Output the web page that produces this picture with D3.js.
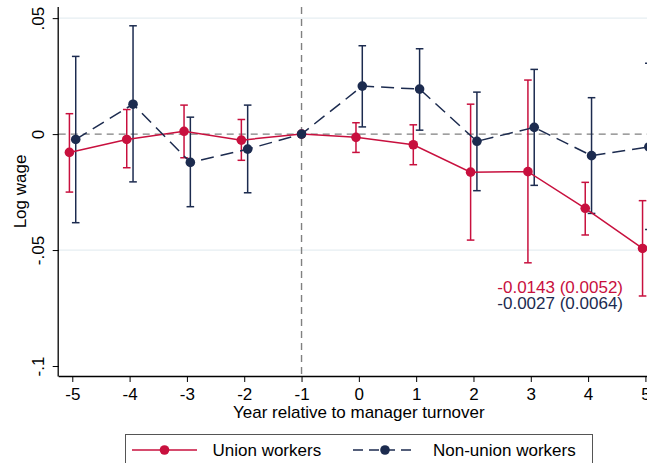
<!DOCTYPE html>
<html>
<head>
<meta charset="utf-8">
<script src="https://cdn.jsdelivr.net/npm/d3@7"></script>
<style>
  html, body { margin: 0; padding: 0; background: #ffffff; }
  svg { display: block; font-family: "Liberation Sans", Arial, Helvetica, sans-serif; }
</style>
</head>
<body>
<div id="chart"></div>
<script>
// ---- Data ----
const years = [-5, -4, -3, -2, -1, 0, 1, 2, 3, 4, 5];

const unionEst = [-0.0079, -0.0023, 0.0012, -0.0026, 0, -0.0014, -0.0046, -0.0164, -0.0162, -0.0320, -0.0493];
const unionLo  = [-0.0250, -0.0145, -0.0102, -0.0113, null, -0.0079, -0.0132, -0.0457, -0.0555, -0.0435, -0.0698];
const unionHi  = [ 0.0088,  0.0106,  0.0125,  0.0063, null,  0.0049,  0.0040,  0.0129,  0.0233, -0.0208, -0.0287];

const nonUnionEst = [-0.0023, 0.0129, -0.0122, -0.0065, 0, 0.0207, 0.0194, -0.0031, 0.0029, -0.0093, -0.0055];
const nonUnionLo  = [-0.0382, -0.0206, -0.0313, -0.0253, null, 0.0031, 0.0017, -0.0244, -0.0221, -0.0342, -0.0411];
const nonUnionHi  = [ 0.0335,  0.0467,  0.0073,  0.0125, null, 0.0381, 0.0368,  0.0181,  0.0279,  0.0157,  0.0305];

const xTickValues = [-5, -4, -3, -2, -1, 0, 1, 2, 3, 4, 5];
const yTickValues = [-0.1, -0.05, 0, 0.05];
const yTickLabels = ["-.1", "-.05", "0", ".05"];
const gridValues = [-0.05, 0.05];

const seriesNames = ["Union workers", "Non-union workers"];
const annotations = ["-0.0143 (0.0052)", "-0.0027 (0.0064)"];

const xTitle = "Year relative to manager turnover";
const yTitle = "Log wage";

// ---- Layout ----
const W = 647, H = 463;
const plotLeft = 58.7, plotTop = 7, plotRight = 659, plotBottom = 376;
const redC = "#c8103e", blueC = "#1c2b4f";
const fontSize = 17;

const svg = d3.select("#chart").append("svg")
  .attr("width", W).attr("height", H)
  .attr("viewBox", `0 0 ${W} ${H}`);

const x = d3.scaleLinear().domain([-5.237, 5.237]).range([plotLeft, plotRight]);
const y = d3.scaleLinear().domain([-0.1043, 0.0548]).range([plotBottom, plotTop]);

// grid lines
svg.append("g").selectAll("line").data(gridValues).join("line")
  .attr("x1", plotLeft).attr("x2", plotRight)
  .attr("y1", d => y(d)).attr("y2", d => y(d))
  .attr("stroke", "#e6eef2").attr("stroke-width", 1.2);

// reference lines
svg.append("line")
  .attr("x1", plotLeft).attr("x2", plotRight)
  .attr("y1", y(0)).attr("y2", y(0))
  .attr("stroke", "#808080").attr("stroke-width", 1.4)
  .attr("stroke-dasharray", "7,5");
svg.append("line")
  .attr("x1", x(-1)).attr("x2", x(-1))
  .attr("y1", plotTop).attr("y2", plotBottom)
  .attr("stroke", "#808080").attr("stroke-width", 1.4)
  .attr("stroke-dasharray", "7,5");

// series
function makeSeries(est, lo, hi, offset) {
  return years.map((yr, i) => ({ xv: yr + offset, est: est[i], lo: lo[i], hi: hi[i] }));
}
const series = [
  { name: seriesNames[0], color: redC, dash: null, data: makeSeries(unionEst, unionLo, unionHi, -0.05) },
  { name: seriesNames[1], color: blueC, dash: "13,7", data: makeSeries(nonUnionEst, nonUnionLo, nonUnionHi, 0.06) }
];
// zero point at -1 shared
series.forEach(s => { s.data[4].xv = -1; });

const capW = 3.8;
series.forEach(s => {
  const g = svg.append("g");
  const ci = s.data.filter(d => d.lo !== null);
  g.selectAll("line.v").data(ci).join("line").attr("class", "v")
    .attr("x1", d => x(d.xv)).attr("x2", d => x(d.xv))
    .attr("y1", d => y(d.lo)).attr("y2", d => y(d.hi))
    .attr("stroke", s.color).attr("stroke-width", 1.5);
  g.selectAll("line.ct").data(ci).join("line").attr("class", "ct")
    .attr("x1", d => x(d.xv) - capW).attr("x2", d => x(d.xv) + capW)
    .attr("y1", d => y(d.hi)).attr("y2", d => y(d.hi))
    .attr("stroke", s.color).attr("stroke-width", 1.5);
  g.selectAll("line.cb").data(ci).join("line").attr("class", "cb")
    .attr("x1", d => x(d.xv) - capW).attr("x2", d => x(d.xv) + capW)
    .attr("y1", d => y(d.lo)).attr("y2", d => y(d.lo))
    .attr("stroke", s.color).attr("stroke-width", 1.5);
});
series.forEach(s => {
  const g = svg.append("g");
  const line = d3.line().x(d => x(d.xv)).y(d => y(d.est));
  g.append("path").datum(s.data)
    .attr("d", line).attr("fill", "none")
    .attr("stroke", s.color).attr("stroke-width", 1.5)
    .attr("stroke-dasharray", s.dash);
  g.selectAll("circle").data(s.data).join("circle")
    .attr("cx", d => x(d.xv)).attr("cy", d => y(d.est))
    .attr("r", 4.8).attr("fill", s.color);
});

// axes
const xAxis = d3.axisBottom(x).tickValues(xTickValues).tickSize(6).tickPadding(6)
  .tickFormat(d3.format("d"));
const gx = svg.append("g").attr("transform", `translate(0,${plotBottom})`).call(xAxis);
gx.select(".domain").attr("d", `M${plotLeft},0.5H${plotRight}`).attr("stroke", "#000").attr("stroke-width", 1.3);
gx.selectAll(".tick line").attr("stroke", "#000").attr("stroke-width", 1);
gx.selectAll(".tick text").attr("font-size", fontSize).attr("fill", "#000")
  .attr("font-family", "Liberation Sans, Arial, sans-serif")
  .text(d => d < 0 ? "-" + Math.abs(d) : String(d));

const yAxis = d3.axisLeft(y).tickValues(yTickValues).tickSize(6)
  .tickFormat((d, i) => yTickLabels[i]);
const gy = svg.append("g").attr("transform", `translate(${plotLeft},0)`).call(yAxis);
gy.select(".domain").attr("d", `M-0.5,${plotTop}V${plotBottom + 0.5}`).attr("stroke", "#000").attr("stroke-width", 1.3);
gy.selectAll(".tick line").attr("stroke", "#000").attr("stroke-width", 1);
gy.selectAll(".tick text")
  .attr("font-size", fontSize).attr("fill", "#000")
  .attr("font-family", "Liberation Sans, Arial, sans-serif")
  .attr("x", null).attr("dy", null)
  .attr("text-anchor", "middle")
  .attr("transform", `translate(${44 - plotLeft},0) rotate(-90)`);

// axis titles
svg.append("text")
  .attr("x", (plotLeft + plotRight) / 2).attr("y", 418)
  .attr("text-anchor", "middle").attr("font-size", fontSize).attr("fill", "#000")
  .text(xTitle);
svg.append("text")
  .attr("transform", `translate(25.5,${(plotTop + plotBottom) / 2}) rotate(-90)`)
  .attr("text-anchor", "middle").attr("font-size", fontSize).attr("fill", "#000")
  .text(yTitle);

// annotations
svg.append("text").attr("x", 623).attr("y", 292.5).attr("text-anchor", "end")
  .attr("font-size", fontSize).attr("fill", redC).text(annotations[0]);
svg.append("text").attr("x", 623).attr("y", 308.5).attr("text-anchor", "end")
  .attr("font-size", fontSize).attr("fill", blueC).text(annotations[1]);

// legend
const lg = svg.append("g");
lg.append("rect").attr("x", 125.5).attr("y", 434.5).attr("width", 467).attr("height", 40)
  .attr("fill", "#fff").attr("stroke", "#555").attr("stroke-width", 1);
const keys = [
  { s: series[0], x0: 132, x1: 197, tx: 212.5 },
  { s: series[1], x0: 353, x1: 417, tx: 433 }
];
keys.forEach(k => {
  lg.append("line").attr("x1", k.x0).attr("x2", k.x1).attr("y1", 450).attr("y2", 450)
    .attr("stroke", k.s.color).attr("stroke-width", 1.5)
    .attr("stroke-dasharray", k.s.dash ? "10,6" : null);
  lg.append("circle").attr("cx", (k.x0 + k.x1) / 2).attr("cy", 450).attr("r", 4.8).attr("fill", k.s.color);
  lg.append("text").attr("x", k.tx).attr("y", 456).attr("font-size", fontSize).attr("fill", "#000")
    .text(k.s.name);
});
</script>
</body>
</html>
